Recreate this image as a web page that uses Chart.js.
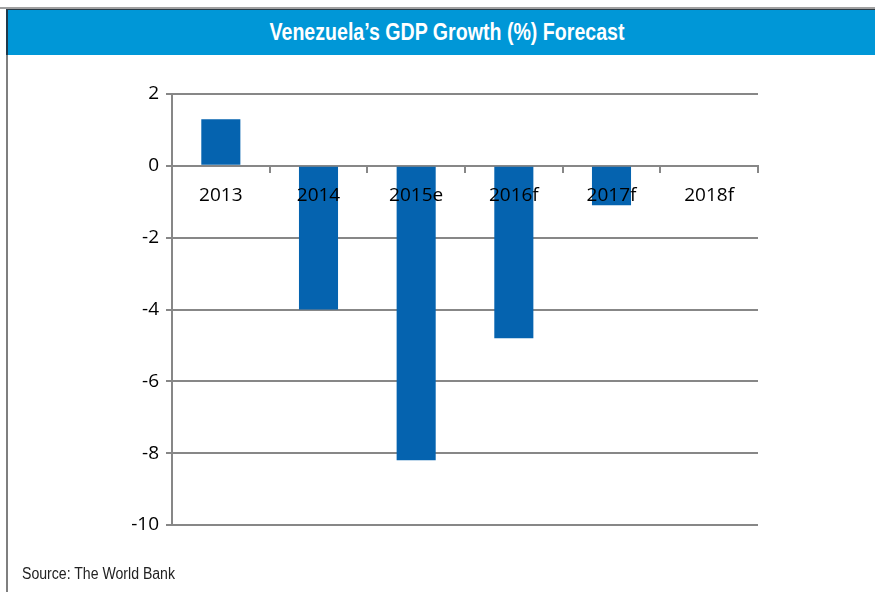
<!DOCTYPE html>
<html>
<head>
<meta charset="utf-8">
<script src="https://cdn.jsdelivr.net/npm/chart.js@4"></script>
<style>
    html, body { margin: 0; background: #fff; overflow: hidden; }
    .frame {
        position: relative;
        width: 875px;
        height: 592px;
        overflow: hidden;
    }
    .border-top {
        position: absolute; left: 0; right: 0; top: 7px; height: 2px; background: #a0a0a0;
    }
    .border-left {
        position: absolute; left: 6px; top: 9px; width: 2px; bottom: 0; background: #7f7f7f;
    }
    .title {
        position: absolute; left: 6px; right: 0; top: 9px; height: 46px;
        background: #0097d7;
        border-top: 1px solid #2b3a44;
        border-left: 2px solid #1f3a4c;
        box-sizing: border-box;
    }
    .source {
        position: absolute; left: 0; top: 555px; width: 300px; height: 30px;
    }
    .chart-box {
        position: absolute; left: 0; top: 0; width: 875px; height: 592px;
    }
    svg { display: block; }
</style>
</head>
<body>
<div class="frame">
    <div class="border-top"></div>
    <div class="border-left"></div>
    <div class="title">
        <svg width="860" height="44">
            <text x="439" y="30" text-anchor="middle" textLength="355" lengthAdjust="spacingAndGlyphs"
                  font-family="Liberation Sans, Arial, sans-serif" font-weight="bold" font-size="24" fill="#fff">Venezuela’s GDP Growth (%) Forecast</text>
        </svg>
    </div>
    <div class="chart-box"><canvas id="gdpChart"></canvas></div>
    <div class="source">
        <svg width="300" height="30">
            <text x="22" y="24" textLength="153" lengthAdjust="spacingAndGlyphs"
                  font-family="Liberation Sans, Arial, sans-serif" font-size="16" fill="#222">Source: The World Bank</text>
        </svg>
    </div>
</div>
<script>
// Data
const years = ['2013', '2014', '2015e', '2016f', '2017f', '2018f'];
const growth = [1.3, -4.0, -8.2, -4.8, -1.1, null];
const yTicks = [2, 0, -2, -4, -6, -8, -10];

document.addEventListener('DOMContentLoaded', function() {
    const ctx = document.getElementById('gdpChart');
    const gridColor = '#878787';

    new Chart(ctx, {
        type: 'bar',
        data: {
            labels: years,
            datasets: [{
                label: 'GDP Growth (%)',
                data: growth,
                backgroundColor: '#0563af',
                borderWidth: 0,
                categoryPercentage: 1,
                barPercentage: 0.4
            }]
        },
        options: {
            responsive: true,
            maintainAspectRatio: false,
            animation: false,
            layout: {
                padding: { left: 100, right: 117, top: 94, bottom: 67 }
            },
            plugins: {
                legend: { display: false },
                tooltip: { enabled: false }
            },
            scales: {
                x: {
                    position: { y: 0 },
                    grid: {
                        offset: true,
                        drawOnChartArea: false,
                        drawTicks: true,
                        tickLength: 6,
                        color: gridColor,
                        lineWidth: 2
                    },
                    border: { color: gridColor, width: 2 },
                    ticks: {
                        z: 1,   // labels sit on top of the bars
                        padding: 12,
                        color: '#000',
                        font: { family: 'Open Sans', size: 19 }
                    }
                },
                y: {
                    min: -10,
                    max: 2,
                    afterBuildTicks: function(scale) {
                        scale.ticks = yTicks.map(v => ({ value: v }));
                    },
                    afterFit: function(scale) {
                        scale.width = 72;
                    },
                    grid: {
                        color: gridColor,
                        lineWidth: 2,
                        tickLength: 6
                    },
                    border: { color: gridColor, width: 2 },
                    ticks: {
                        padding: 7,
                        color: '#000',
                        font: { family: 'Open Sans', size: 19 }
                    }
                }
            }
        }
    });
});
</script>
</body>
</html>
